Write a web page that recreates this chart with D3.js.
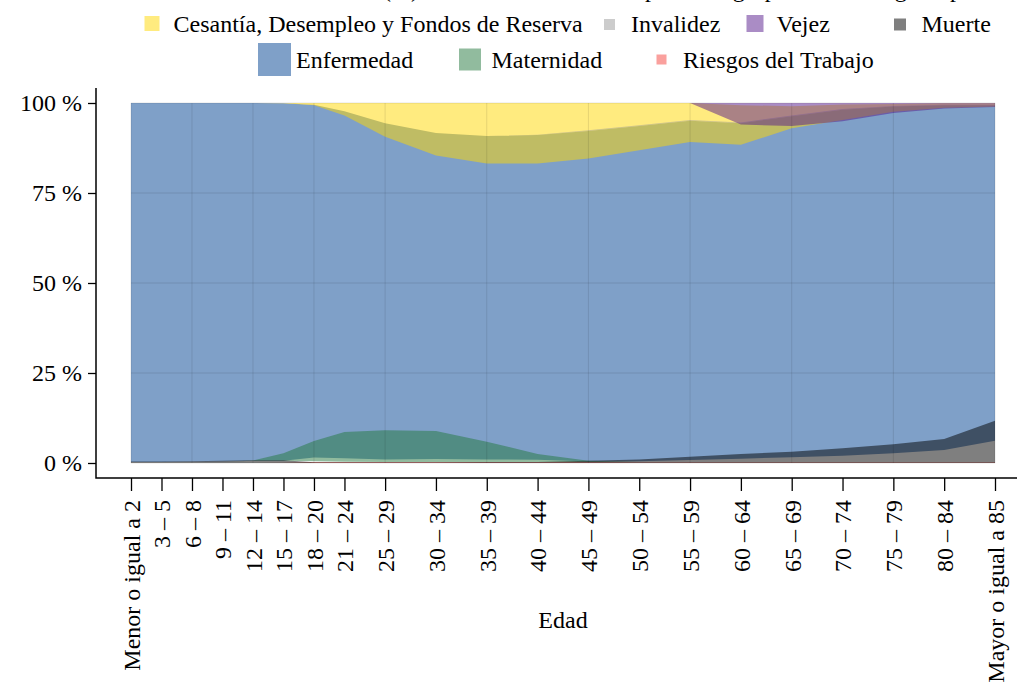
<!DOCTYPE html>
<html>
<head>
<meta charset="utf-8">
<script src="https://cdn.jsdelivr.net/npm/d3@7"></script>
<style>
  body { margin: 0; background: #fff; }
  svg { display: block; }
  text { font-family: "Liberation Serif", "Times New Roman", serif; fill: #000; }
</style>
</head>
<body>
<svg id="chart" width="1017" height="689"></svg>
<script>
// age groups (label + lower bound used as x position)
const edades = ['Menor o igual a 2', '3 – 5', '6 – 8', '9 – 11', '12 – 14', '15 – 17', '18 – 20',
  '21 – 24', '25 – 29', '30 – 34', '35 – 39', '40 – 44', '45 – 49', '50 – 54', '55 – 59',
  '60 – 64', '65 – 69', '70 – 74', '75 – 79', '80 – 84', 'Mayor o igual a 85'];
const edadInicio = [0, 3, 6, 9, 12, 15, 18, 21, 25, 30, 35, 40, 45, 50, 55, 60, 65, 70, 75, 80, 85];

// each series is a band (lower / upper %)
const enfermedadBase = [0.3, 0.3, 0.35, 0.4, 0.6, 0.65, 1.5, 1.3, 1.0, 1.1, 1.0, 0.9, 0.4, 0.5, 0.8, 1.2, 1.6, 2.0, 2.7, 3.6, 6.2];
const enfermedadTope = [100, 100, 100, 100, 100, 99.9, 99.5, 97.7, 94.4, 91.7, 90.8, 91.1, 92.2, 93.6, 95.1, 94.4, 96.3, 98.1, 99.0, 99.4, 99.4];

const cesantiaBase = [100, 100, 100, 100, 100, 99.9, 99.4, 96.5, 90.6, 85.4, 83.2, 83.2, 84.6, 86.9, 89.2, 88.4, 93.0, 95.3, 97.6, 98.7, 99.0];
const cesantiaTope = [100, 100, 100, 100, 100, 100, 100, 100, 100, 100, 100, 100, 100, 100, 100, 99.4, 99.1, 99.6, 99.7, 99.9, 99.9];

const invalidezBase = [100, 100, 100, 100, 100, 99.9, 99.5, 97.7, 94.4, 91.7, 90.8, 91.1, 92.2, 93.6, 95.1, 94.4, 96.3, 98.1, 99.0, 99.4, 99.4];
const invalidezTope = [100, 100, 100, 100, 100, 99.9, 99.5, 97.7, 94.4, 91.7, 90.8, 91.2, 92.4, 93.8, 95.3, 94.6, 96.5, 98.3, 99.2, 99.5, 99.5];

const vejezBase = [100, 100, 100, 100, 100, 100, 100, 100, 100, 100, 100, 100, 100, 100, 100, 94.0, 93.6, 94.9, 97.2, 98.5, 98.9];
const vejezTope = [100, 100, 100, 100, 100, 100, 100, 100, 100, 100, 100, 100, 100, 100, 100, 100, 100, 100, 100, 100, 100];

const maternidadBase = [0.3, 0.3, 0.3, 0.3, 0.6, 0.6, 0.5, 0.35, 0.3, 0.3, 0.3, 0.3, 0.3, 0.3, 0.3, 0.3, 0.3, 0.3, 0.3, 0.3, 0.3];
const maternidadTope = [0.3, 0.3, 0.3, 0.3, 0.7, 2.7, 6.1, 8.6, 9.1, 8.9, 5.9, 2.5, 0.6, 0.3, 0.3, 0.3, 0.3, 0.3, 0.3, 0.3, 0.3];

const riesgosBase = [0, 0, 0, 0, 0, 0, 0, 0, 0, 0, 0, 0, 0, 0, 0, 0, 0, 0, 0, 0, 0];
const riesgosTope = [0, 0, 0, 0, 0, 0.05, 0.3, 0.3, 0.3, 0.3, 0.3, 0.3, 0.25, 0.2, 0.2, 0.2, 0.2, 0.2, 0.2, 0.2, 0.2];

const muerteBase = [0, 0, 0, 0, 0, 0, 0, 0, 0, 0, 0, 0, 0, 0, 0, 0, 0, 0, 0, 0, 0];
const muerteTope = [0.45, 0.45, 0.5, 0.6, 0.75, 0.75, 0.2, 0.2, 0.2, 0.2, 0.25, 0.3, 0.65, 1.0, 1.75, 2.5, 3.1, 4.1, 5.2, 6.7, 11.75];

const yTicks = [0, 25, 50, 75, 100];

const colores = {
  'Cesantía, Desempleo y Fondos de Reserva': '#ffd700',
  'Invalidez': '#999999',
  'Vejez': '#551a8b',
  'Muerte': '#000000',
  'Enfermedad': '#004191',
  'Maternidad': '#23783e',
  'Riesgos del Trabajo': '#f5413c'
};

// drawing order (later ones sit on top)
const capas = [
  { nombre: 'Enfermedad', base: enfermedadBase, tope: enfermedadTope },
  { nombre: 'Cesantía, Desempleo y Fondos de Reserva', base: cesantiaBase, tope: cesantiaTope },
  { nombre: 'Invalidez', base: invalidezBase, tope: invalidezTope },
  { nombre: 'Vejez', base: vejezBase, tope: vejezTope },
  { nombre: 'Maternidad', base: maternidadBase, tope: maternidadTope },
  { nombre: 'Riesgos del Trabajo', base: riesgosBase, tope: riesgosTope },
  { nombre: 'Muerte', base: muerteBase, tope: muerteTope }
];

const svg = d3.select('#chart');

const x = d3.scaleLinear().domain([0, 85]).range([131, 995]);
const y = d3.scaleLinear().domain([0, 100]).range([463, 103]);

// title (cut off at the top edge, like the original)
svg.append('text').attr('x', 383).attr('y', -3).attr('text-anchor', 'end').attr('font-size', 24)
  .text('Distribución del costo de las atenciones de salud\u00a0');
svg.append('text').attr('x', 383).attr('y', -3).attr('font-size', 24)
  .text('(%) del total de atenciones por cada grupo de edad según tipo de Seguro y carga');

// legend
const leyenda = [
  { nombre: 'Cesantía, Desempleo y Fondos de Reserva', cx: 152, cy: 23.5, lado: 15 },
  { nombre: 'Invalidez', cx: 609.5, cy: 24.5, lado: 11 },
  { nombre: 'Vejez', cx: 755, cy: 23.5, lado: 17 },
  { nombre: 'Muerte', cx: 900, cy: 24.5, lado: 12 },
  { nombre: 'Enfermedad', cx: 274.5, cy: 59.5, lado: 33 },
  { nombre: 'Maternidad', cx: 470, cy: 59.5, lado: 22 },
  { nombre: 'Riesgos del Trabajo', cx: 661.5, cy: 59.5, lado: 10 }
];
const gLey = svg.append('g');
gLey.selectAll('rect').data(leyenda).join('rect')
  .attr('x', d => d.cx - d.lado / 2).attr('y', d => d.cy - d.lado / 2)
  .attr('width', d => d.lado).attr('height', d => d.lado)
  .attr('fill', d => colores[d.nombre]).attr('fill-opacity', 0.5);
gLey.selectAll('text').data(leyenda).join('text')
  .attr('x', d => d.cx + 21.5).attr('y', d => (d.cy < 40 ? 23.5 : 59.5) + 8)
  .attr('font-size', 24)
  .text(d => d.nombre);

// areas
const area = d3.area()
  .x((d, i) => x(edadInicio[i]))
  .y0(d => y(d[0]))
  .y1(d => y(d[1]));

svg.append('g').selectAll('path').data(capas).join('path')
  .attr('d', c => area(c.base.map((b, i) => [b, c.tope[i]])))
  .attr('fill', c => colores[c.nombre])
  .attr('fill-opacity', 0.5);

// grid on top of the areas
const grid = svg.append('g').attr('stroke', '#000').attr('stroke-opacity', 0.1).attr('stroke-width', 1);
grid.selectAll('line.v').data(edadInicio.filter((d, i) => i % 2 === 0)).join('line')
  .attr('class', 'v')
  .attr('x1', d => x(d)).attr('x2', d => x(d))
  .attr('y1', y(0)).attr('y2', y(100));
grid.selectAll('line.h').data(yTicks).join('line')
  .attr('class', 'h')
  .attr('x1', x(0)).attr('x2', x(85))
  .attr('y1', d => y(d)).attr('y2', d => y(d));

// axes
const yAxis = d3.axisLeft(y).tickValues(yTicks).tickFormat(d => d + ' %').tickSize(8).tickPadding(6);
const gy = svg.append('g').attr('transform', 'translate(96,0)').call(yAxis);
gy.select('.domain').remove();
gy.selectAll('.tick line').attr('stroke', '#000').attr('stroke-width', 1.3);
gy.selectAll('text').attr('font-size', 24).attr('font-family', '"Liberation Serif", serif');

const xAxis = d3.axisBottom(x).tickValues(edadInicio).tickFormat((d, i) => edades[i]).tickSize(13);
const gx = svg.append('g').attr('transform', 'translate(0,478)').call(xAxis);
gx.select('.domain').remove();
gx.selectAll('.tick line').attr('stroke', '#000').attr('stroke-width', 1.3);
gx.selectAll('text')
  .attr('font-size', 24).attr('font-family', '"Liberation Serif", serif')
  .attr('transform', 'rotate(-90)')
  .attr('text-anchor', 'end')
  .attr('x', -22).attr('y', 0).attr('dy', '0.35em');

// axis frame
svg.append('path')
  .attr('d', 'M96,88V478H1017')
  .attr('fill', 'none').attr('stroke', '#000').attr('stroke-width', 1.5);

svg.append('text').attr('x', 563).attr('y', 628).attr('text-anchor', 'middle')
  .attr('font-size', 24).text('Edad');
</script>
</body>
</html>
